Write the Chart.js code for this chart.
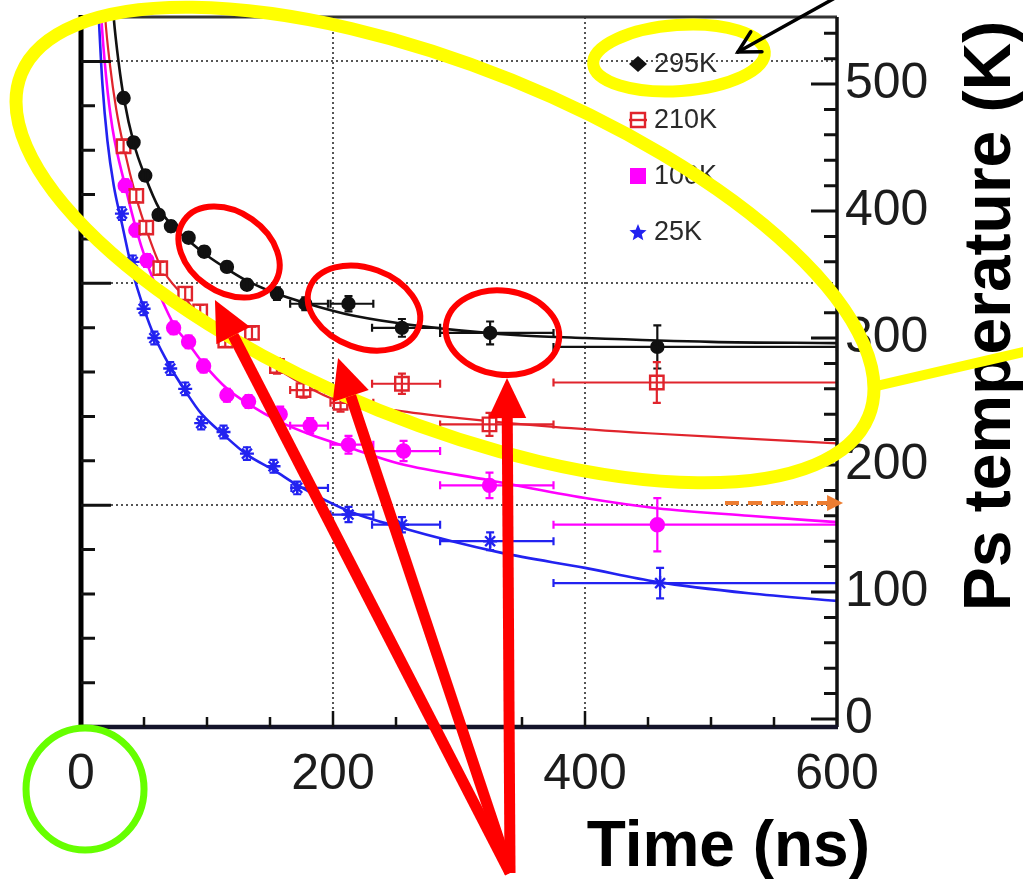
<!DOCTYPE html>
<html>
<head>
<meta charset="utf-8">
<title>Ps temperature vs time</title>
<script src="https://cdn.jsdelivr.net/npm/chart.js"></script>
<style>
  html, body { margin: 0; padding: 0; background: #fff; }
  canvas { display: block; }
</style>
</head>
<body>
<canvas id="psChart" width="1023" height="881"></canvas>
<script>
// axis tick labels
const timeTicks = [0, 200, 400, 600];
const tempTicks = [0, 100, 200, 300, 400, 500];

const seriesLabels = ["295K", "210K", "100K", "25K"];

// 295K measurements (time in ns, temperature in K)
const time295 = [33.8, 41.7, 51.0, 61.6, 71.4, 85.4, 97.8, 115.8, 131.7, 155.5, 178.0, 212.3, 254.7, 324.7, 457.4];
const temp295 = [489, 454, 428, 397, 388, 379, 368, 356, 342, 335, 327, 327, 308, 304, 293];
const err295 = [4, 4, 4, 4, 4, 4, 4, 4, 4, 5, 5, 6, 7, 9, 17];
const binLo295 = [null, null, null, null, null, null, null, null, null, null, 166, 198, 231, 285, 375];
const binHi295 = [null, null, null, null, null, null, null, null, null, null, 196, 232, 285, 375, 600];

// 210K
const time210 = [33.8, 43.9, 51.8, 62.9, 82.7, 94.6, 114.5, 135.7, 155.5, 176.6, 206.0, 254.7, 324.2, 457.0];
const temp210 = [451, 412, 387, 355, 335, 321, 298, 304, 278, 259, 249, 264, 232, 265];
const err210 = [5, 5, 5, 5, 5, 5, 5, 5, 6, 6, 7, 8, 9, 16];
const binLo210 = [null, null, null, null, null, null, null, null, null, 166, 198, 231, 285, 375];
const binHi210 = [null, null, null, null, null, null, null, null, null, 194, 232, 285, 375, 600];

// 100K
const time100 = [35.1, 43.5, 52.4, 73.5, 85.4, 97.3, 115.8, 133.0, 158.1, 181.9, 212.3, 256.0, 324.2, 457.4];
const temp100 = [420, 385, 361, 308, 297, 278, 255, 250, 240, 231, 216, 211, 184, 153];
const err100 = [5, 5, 5, 5, 5, 5, 5, 5, 6, 6, 7, 8, 10, 21];
const binLo100 = [null, null, null, null, null, null, null, null, null, 166, 198, 231, 285, 375];
const binHi100 = [null, null, null, null, null, null, null, null, null, 196, 232, 285, 375, 600];

// 25K
const time25 = [32.5, 41.0, 49.7, 58.2, 70.8, 82.7, 95.4, 113.1, 131.7, 152.8, 171.6, 212.3, 254.7, 324.7, 459.6];
const temp25 = [398, 360, 323, 300, 276, 260, 233, 226, 209, 199, 182, 161, 153, 140, 107];
const err25 = [5, 5, 5, 5, 5, 5, 5, 5, 5, 5, 5, 6, 6, 7, 12];
const binLo25 = [null, null, null, null, null, null, null, null, null, null, 167, 198, 231, 285, 375];
const binHi25 = [null, null, null, null, null, null, null, null, null, null, 196, 232, 285, 375, 600];

// fitted curves
const fitTime295 = [24, 26, 30, 34, 42, 51, 62, 72, 85, 100, 115, 130, 155, 180, 210, 250, 300, 350, 400, 500, 600];
const fit295 = [580, 552, 516, 489, 453, 427, 402, 389, 377, 365, 355, 346, 335, 327, 319, 312, 306, 302, 300, 297, 296];
const fitTime210 = [17, 19, 23, 28, 34, 44, 52, 63, 83, 95, 115, 135, 155, 177, 200, 250, 300, 375, 450, 525, 600];
const fit210 = [590, 555, 515, 480, 450, 410, 385, 357, 331, 316, 299, 288, 276, 263, 252, 243, 237, 230, 225, 221, 217];
const fitTime100 = [14, 16, 20, 25, 35, 44, 52, 62, 74, 85, 97, 116, 133, 158, 182, 212, 253, 324, 400, 457, 530, 600];
const fit100 = [600, 555, 505, 465, 420, 385, 360, 335, 310, 296, 280, 260, 248, 234, 224, 214, 201, 188, 174, 166, 160, 155];
const fitTime25 = [12, 14, 17, 21, 26, 32.5, 41, 50, 58, 71, 83, 95, 113, 132, 153, 172, 212, 253, 333, 400, 457, 530, 600];
const fit25 = [600, 555, 500, 455, 420, 390, 352, 323, 302, 277, 258, 241, 224, 208, 196, 184, 164, 151, 131, 119, 108, 99, 93];

const colors = ["#111111", "#e0242c", "#ff00ff", "#2222f0"];
const FONT = '"Liberation Sans", Arial, Helvetica, sans-serif';

function pts(xs, ys) {
    return xs.map((x, i) => ({ x: x, y: ys[i] }));
}

function pointSet(label, xs, ys, err, lo, hi, color, style, radius, fill) {
    return {
        label: label,
        data: pts(xs, ys),
        errT: err, binLo: lo, binHi: hi,
        showLine: false,
        pointStyle: style,
        pointRadius: radius,
        pointBorderWidth: 2.4,
        borderColor: color,
        pointBorderColor: color,
        pointBackgroundColor: fill,
        order: 1
    };
}

function fitSet(xs, ys, color, width) {
    return {
        data: pts(xs, ys),
        showLine: true,
        borderColor: color,
        borderWidth: width,
        pointRadius: 0,
        pointHitRadius: 0,
        cubicInterpolationMode: 'monotone',
        order: 2
    };
}

// error bars: vertical +-err, horizontal time bin
const errorBars = {
    id: 'errorBars',
    afterDatasetsDraw(chart) {
        const { ctx, chartArea: a, scales: { x, y } } = chart;
        ctx.save();
        ctx.beginPath();
        ctx.rect(a.left, a.top, a.width, a.height);
        ctx.clip();
        chart.data.datasets.forEach(ds => {
            if (!ds.errT) return;
            ctx.strokeStyle = ds.borderColor;
            ctx.lineWidth = 2.2;
            ds.data.forEach((p, i) => {
                const cx = x.getPixelForValue(p.x), cy = y.getPixelForValue(p.y);
                ctx.beginPath();
                const e = ds.errT[i];
                if (e) {
                    const y1 = y.getPixelForValue(p.y + e), y2 = y.getPixelForValue(p.y - e);
                    ctx.moveTo(cx, y1); ctx.lineTo(cx, y2);
                    ctx.moveTo(cx - 4, y1); ctx.lineTo(cx + 4, y1);
                    ctx.moveTo(cx - 4, y2); ctx.lineTo(cx + 4, y2);
                }
                if (ds.binLo[i] != null) {
                    const x1 = x.getPixelForValue(ds.binLo[i]), x2 = x.getPixelForValue(ds.binHi[i]);
                    ctx.moveTo(x1, cy); ctx.lineTo(x2, cy);
                    ctx.moveTo(x1, cy - 4); ctx.lineTo(x1, cy + 4);
                    ctx.moveTo(x2, cy - 4); ctx.lineTo(x2, cy + 4);
                }
                ctx.stroke();
            });
        });
        ctx.restore();
    }
};

// overlay marks, placed in data units (time ns, temperature K)
const rings = [
    { t: 288.9, T: 373.2, rx: 457, ry: 178, rot: 22, color: "#ffff00", width: 13 },
    { t: 474.6, T: 520.5, rx: 86, ry: 33, rot: -4, color: "#ffff00", width: 12 },
    { t: 117.5, T: 367.7, rx: 55, ry: 40, rot: 35, color: "#ff0000", width: 6 },
    { t: 224.6, T: 323.6, rx: 58, ry: 40, rot: 20, color: "#ff0000", width: 6 },
    { t: 334.5, T: 304.3, rx: 57, ry: 42, rot: 8, color: "#ff0000", width: 6 },
    { t: 3.2, T: -55.1, rx: 59, ry: 61, rot: 0, color: "#66ff00", width: 7 }
];
const redArrowBase = { t: 340.5, T: -121.3 };
const redArrowTips = [{ t: 106.3, T: 329.9 }, { t: 204.0, T: 284.3 }, { t: 338.1, T: 268.5 }];
const yellowTail = [{ t: 630, T: 262 }, { t: 747.6, T: 289 }];
const blackArrow = [{ t: 602.4, T: 570 }, { t: 521.4, T: 525.2 }];
const orangeArrow = [{ t: 511.1, T: 170.1 }, { t: 604.8, T: 170.1 }];

function solidArrow(ctx, x1, y1, x2, y2, color, width, head, half) {
    const ang = Math.atan2(y2 - y1, x2 - x1);
    const bx = x2 - head * Math.cos(ang), by = y2 - head * Math.sin(ang);
    ctx.strokeStyle = color;
    ctx.fillStyle = color;
    ctx.lineWidth = width;
    ctx.beginPath(); ctx.moveTo(x1, y1); ctx.lineTo(bx, by); ctx.stroke();
    ctx.beginPath();
    ctx.moveTo(x2, y2);
    ctx.lineTo(bx + half * Math.sin(ang), by - half * Math.cos(ang));
    ctx.lineTo(bx - half * Math.sin(ang), by + half * Math.cos(ang));
    ctx.closePath();
    ctx.fill();
}

const decorations = {
    id: 'decorations',
    afterDraw(chart) {
        const { ctx, chartArea: a, scales } = chart;
        const xs = scales.x, ys = scales.y, yl = scales.yL;
        const px = t => xs.getPixelForValue(t), py = T => ys.getPixelForValue(T);
        ctx.save();

        // frame
        ctx.lineCap = 'butt';
        ctx.strokeStyle = '#333'; ctx.lineWidth = 3;
        ctx.beginPath(); ctx.moveTo(a.left, a.top); ctx.lineTo(a.right, a.top); ctx.stroke();
        ctx.strokeStyle = '#111'; ctx.lineWidth = 3.5;
        ctx.beginPath(); ctx.moveTo(a.right, a.top); ctx.lineTo(a.right, a.bottom); ctx.stroke();
        ctx.strokeStyle = '#000'; ctx.lineWidth = 5;
        ctx.beginPath(); ctx.moveTo(a.left, a.top - 2); ctx.lineTo(a.left, a.bottom + 2); ctx.stroke();
        ctx.strokeStyle = '#14142a'; ctx.lineWidth = 4.5;
        ctx.beginPath(); ctx.moveTo(a.left, a.bottom); ctx.lineTo(a.right + 1, a.bottom); ctx.stroke();

        // inward ticks
        ctx.strokeStyle = '#111'; ctx.lineWidth = 3;
        ctx.beginPath();
        yl.ticks.forEach(tk => {
            if (tk.value === 0) return;
            const y = yl.getPixelForValue(tk.value);
            const len = tk.value % 15 === 0 ? 30 : 14;
            ctx.moveTo(a.left, y); ctx.lineTo(a.left + len, y);
        });
        ys.ticks.forEach(tk => {
            const y = ys.getPixelForValue(tk.value);
            const len = tk.value % 100 === 0 ? 26 : 13;
            ctx.moveTo(a.right, y); ctx.lineTo(a.right - len, y);
        });
        ctx.stroke();
        ctx.lineWidth = 2.5;
        ctx.beginPath();
        xs.ticks.forEach(tk => {
            if (tk.value === 0 || tk.value === 600) return;
            const x = xs.getPixelForValue(tk.value);
            const len = tk.value % 200 === 0 ? 16 : 10;
            ctx.moveTo(x, a.bottom); ctx.lineTo(x, a.bottom - len);
        });
        ctx.stroke();

        // legend inside the frame
        const lx = a.right - 199, tx = a.right - 183;
        ctx.font = '27px ' + FONT;
        ctx.textBaseline = 'middle';
        ctx.textAlign = 'left';
        seriesLabels.forEach((lab, i) => {
            const y = a.top + 47 + i * 56;
            const c = colors[i];
            ctx.fillStyle = c; ctx.strokeStyle = c; ctx.lineWidth = 2.4;
            ctx.beginPath();
            if (i === 0) {
                ctx.moveTo(lx, y - 8); ctx.lineTo(lx + 9, y); ctx.lineTo(lx, y + 8); ctx.lineTo(lx - 9, y);
                ctx.closePath(); ctx.fill();
            } else if (i === 1) {
                ctx.fillStyle = '#fff';
                ctx.rect(lx - 7, y - 7, 14, 14); ctx.fill(); ctx.stroke();
                ctx.beginPath(); ctx.moveTo(lx - 9, y); ctx.lineTo(lx + 9, y); ctx.stroke();
            } else if (i === 2) {
                ctx.rect(lx - 8, y - 8, 16, 16); ctx.fill();
            } else {
                for (let k = 0; k < 10; k++) {
                    const r = k % 2 === 0 ? 9 : 4;
                    const ang = -Math.PI / 2 + k * Math.PI / 5;
                    const X = lx + r * Math.cos(ang), Y = y + r * Math.sin(ang) + 1;
                    if (k === 0) ctx.moveTo(X, Y); else ctx.lineTo(X, Y);
                }
                ctx.closePath(); ctx.fill();
            }
            ctx.fillStyle = '#2a2a2a';
            ctx.fillText(lab, tx, y + 1);
        });

        // axis titles
        ctx.fillStyle = '#000';
        ctx.font = 'bold 64px ' + FONT;
        ctx.textBaseline = 'alphabetic';
        ctx.textAlign = 'right';
        ctx.fillText('Time (ns)', a.right + 33, a.bottom + 139);
        ctx.save();
        ctx.translate(a.right + 173, a.top + 299);
        ctx.rotate(-Math.PI / 2);
        ctx.textAlign = 'center';
        ctx.font = 'bold 66px ' + FONT;
        ctx.fillText('Ps temperature (K)', 0, 0);
        ctx.restore();

        // annotations
        ctx.lineCap = 'round';
        rings.filter(r => r.color === '#ffff00').forEach(r => {
            ctx.strokeStyle = r.color; ctx.lineWidth = r.width;
            ctx.beginPath();
            ctx.ellipse(px(r.t), py(r.T), r.rx, r.ry, r.rot * Math.PI / 180, 0, Math.PI * 2);
            ctx.stroke();
        });
        ctx.strokeStyle = '#ffff00'; ctx.lineWidth = 10;
        ctx.beginPath();
        ctx.moveTo(px(yellowTail[0].t), py(yellowTail[0].T));
        ctx.lineTo(px(yellowTail[1].t), py(yellowTail[1].T));
        ctx.stroke();

        rings.filter(r => r.color !== '#ffff00').forEach(r => {
            ctx.strokeStyle = r.color; ctx.lineWidth = r.width;
            ctx.beginPath();
            ctx.ellipse(px(r.t), py(r.T), r.rx, r.ry, r.rot * Math.PI / 180, 0, Math.PI * 2);
            ctx.stroke();
        });

        ctx.lineCap = 'butt';
        redArrowTips.forEach(tip => {
            solidArrow(ctx, px(redArrowBase.t), py(redArrowBase.T), px(tip.t), py(tip.T), '#ff0000', 11, 40, 19);
        });

        // orange dashed arrow
        ctx.setLineDash([14, 9]);
        ctx.strokeStyle = '#ed7d31'; ctx.lineWidth = 4;
        const ox1 = px(orangeArrow[0].t), ox2 = px(orangeArrow[1].t), oy = py(orangeArrow[0].T);
        ctx.beginPath(); ctx.moveTo(ox1, oy); ctx.lineTo(ox2 - 14, oy); ctx.stroke();
        ctx.setLineDash([]);
        ctx.fillStyle = '#ed7d31';
        ctx.beginPath(); ctx.moveTo(ox2, oy); ctx.lineTo(ox2 - 16, oy - 8); ctx.lineTo(ox2 - 16, oy + 8); ctx.closePath(); ctx.fill();

        // black arrow to the legend
        const bx1 = px(blackArrow[0].t), by1 = py(blackArrow[0].T);
        const bx2 = px(blackArrow[1].t), by2 = py(blackArrow[1].T);
        ctx.strokeStyle = '#000'; ctx.lineWidth = 3.5; ctx.lineCap = 'round';
        ctx.beginPath(); ctx.moveTo(bx1, by1); ctx.lineTo(bx2, by2); ctx.stroke();
        const ang = Math.atan2(by1 - by2, bx1 - bx2);
        ctx.beginPath();
        ctx.moveTo(bx2 + 24 * Math.cos(ang - 0.5), by2 + 24 * Math.sin(ang - 0.5));
        ctx.lineTo(bx2, by2);
        ctx.lineTo(bx2 + 24 * Math.cos(ang + 0.5), by2 + 24 * Math.sin(ang + 0.5));
        ctx.stroke();

        ctx.restore();
    }
};

function noPad(s) {
    s.paddingTop = 0; s.paddingBottom = 0; s.paddingLeft = 0; s.paddingRight = 0;
}

function stepTicks(from, to, step) {
    const out = [];
    for (let v = from; v <= to + 1e-9; v += step) out.push({ value: Math.round(v * 100) / 100 });
    return out;
}

const ctx = document.getElementById("psChart");

new Chart(ctx, {
    type: 'scatter',
    data: {
        datasets: [
            pointSet(seriesLabels[0], time295, temp295, err295, binLo295, binHi295, colors[0], 'circle', 6, colors[0]),
            pointSet(seriesLabels[1], time210, temp210, err210, binLo210, binHi210, colors[1], 'rect', 9.5, '#ffffff'),
            pointSet(seriesLabels[2], time100, temp100, err100, binLo100, binHi100, colors[2], 'circle', 6.5, colors[2]),
            pointSet(seriesLabels[3], time25, temp25, err25, binLo25, binHi25, colors[3], 'star', 7, colors[3]),
            fitSet(fitTime295, fit295, colors[0], 2.6),
            fitSet(fitTime210, fit210, colors[1], 2.2),
            fitSet(fitTime100, fit100, colors[2], 2.6),
            fitSet(fitTime25, fit25, colors[3], 2.6)
        ]
    },
    options: {
        responsive: false,
        animation: false,
        devicePixelRatio: 1,
        layout: { padding: { left: 81, top: 17, right: 0, bottom: 0 }, autoPadding: false },
        plugins: { legend: { display: false }, tooltip: { enabled: false } },
        scales: {
            x: {
                type: 'linear', position: 'bottom', min: 0, max: 600,
                afterBuildTicks: s => { s.ticks = stepTicks(0, 600, 50); },
                afterFit: s => { s.height = 154; noPad(s); },
                grid: {
                    drawTicks: false,
                    lineWidth: 2,
                    color: c => (c.tick && (c.tick.value === 200 || c.tick.value === 400)) ? '#555' : 'rgba(0,0,0,0)'
                },
                border: { display: false, dash: [2, 3] },
                ticks: {
                    autoSkip: false, maxRotation: 0, minRotation: 0, padding: 18,
                    color: '#1c1c1c', font: { family: FONT, size: 50 },
                    callback: v => timeTicks.includes(v) ? String(v) : ''
                }
            },
            y: {
                type: 'linear', position: 'right', min: -6.3, max: 552.8,
                afterBuildTicks: s => { s.ticks = stepTicks(0, 540, 20); },
                afterFit: s => { s.width = 186; noPad(s); },
                grid: { drawTicks: false, drawOnChartArea: false },
                border: { display: false },
                ticks: {
                    autoSkip: false, padding: 8,
                    color: '#1c1c1c', font: { family: FONT, size: 50 },
                    callback: v => tempTicks.includes(v) ? String(v) : ''
                }
            },
            yL: {
                type: 'linear', position: 'left', min: 0, max: 48,
                afterBuildTicks: s => { s.ticks = stepTicks(0, 45, 3); },
                afterFit: s => { s.width = 0; noPad(s); },
                grid: {
                    drawTicks: false,
                    lineWidth: 2,
                    color: c => (c.tick && c.tick.value > 0 && c.tick.value % 15 === 0) ? '#555' : 'rgba(0,0,0,0)'
                },
                border: { display: false, dash: [2, 3] },
                ticks: { display: false }
            }
        }
    },
    plugins: [errorBars, decorations]
});
</script>
</body>
</html>
